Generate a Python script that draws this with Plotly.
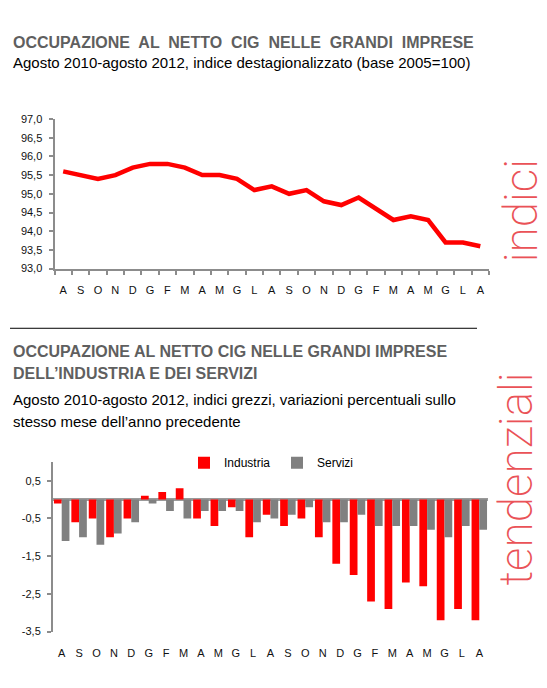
import plotly.graph_objects as go

W, H = 547, 688

# --- data ---
mesi = ["A", "S", "O", "N", "D", "G", "F", "M", "A", "M", "G", "L",
        "A", "S", "O", "N", "D", "G", "F", "M", "A", "M", "G", "L", "A"]

indice = [95.6, 95.5, 95.4, 95.5, 95.7, 95.8, 95.8, 95.7, 95.5, 95.5, 95.4, 95.1,
          95.2, 95.0, 95.1, 94.8, 94.7, 94.9, 94.6, 94.3, 94.4, 94.3, 93.7, 93.7, 93.6]

industria = [-0.1, -0.6, -0.5, -1.0, -0.5, 0.1, 0.2, 0.3, -0.5, -0.7, -0.2, -1.0,
             -0.4, -0.7, -0.5, -1.0, -1.7, -2.0, -2.7, -2.9, -2.2, -2.3, -3.2, -2.9, -3.2]

servizi = [-1.1, -1.0, -1.2, -0.9, -0.6, -0.1, -0.3, -0.5, -0.3, -0.3, -0.3, -0.6,
           -0.5, -0.4, -0.2, -0.6, -0.6, -0.4, -0.7, -0.7, -0.7, -0.8, -1.0, -0.7, -0.8]

ticks_top = [93.0, 93.5, 94.0, 94.5, 95.0, 95.5, 96.0, 96.5, 97.0]
ticks_bottom = [0.5, -0.5, -1.5, -2.5, -3.5]

x = list(range(len(mesi)))
bordi = [i - 0.5 for i in range(len(mesi) + 1)]

FONT = "Liberation Sans"
AXIS_GREY = "#8c8c8c"
RED = "#ff0000"
GREY = "#808080"


def px(v):
    return v / W


def py(v):
    return 1 - v / H


def virgola(vals):
    # etichette con la virgola decimale e il trattino semplice
    return [f"{v:.1f}".replace(".", ",") for v in vals]


fig = go.Figure()

fig.add_trace(go.Scatter(
    x=x, y=indice, mode="lines", line=dict(color=RED, width=4.5),
    showlegend=False, xaxis="x", yaxis="y",
))

fig.add_trace(go.Bar(
    x=x, y=industria, name="Industria", marker=dict(color=RED, line_width=0),
    xaxis="x2", yaxis="y2",
))
fig.add_trace(go.Bar(
    x=x, y=servizi, name="Servizi", marker=dict(color=GREY, line_width=0),
    xaxis="x2", yaxis="y2",
))

tick_font = dict(size=11, family=FONT, color="#111")

fig.update_layout(
    width=W, height=H,
    margin=dict(l=0, r=0, t=0, b=0),
    paper_bgcolor="white", plot_bgcolor="white",
    font=dict(family=FONT, size=12, color="#000"),
    barmode="group", bargap=0.11, bargroupgap=0,
    xaxis=dict(
        domain=[px(54.5), px(489)], anchor="y",
        range=[-0.5, len(mesi) - 0.5],
        tickmode="array", tickvals=x, ticktext=mesi, ticks="",
        ticklabelstandoff=10,
        showline=True, linecolor=AXIS_GREY, linewidth=2,
        showgrid=False, zeroline=False,
        minor=dict(tickmode="array", tickvals=bordi, ticks="outside",
                   ticklen=4, tickcolor=AXIS_GREY, tickwidth=1.5, showgrid=False),
        tickfont=tick_font,
    ),
    yaxis=dict(
        domain=[py(267.3), py(115)], anchor="x",
        range=[93, 97],
        tickmode="array", tickvals=ticks_top, ticktext=virgola(ticks_top),
        ticks="outside", ticklen=4, tickcolor=AXIS_GREY, tickwidth=1.5,
        ticklabelstandoff=4,
        showline=True, linecolor=AXIS_GREY, linewidth=2,
        showgrid=False, zeroline=False,
        tickfont=tick_font,
    ),
    xaxis2=dict(
        domain=[px(53), px(488)], anchor="y2",
        range=[-0.5, len(mesi) - 0.5],
        tickmode="array", tickvals=x, ticktext=mesi, ticks="",
        ticklabelstandoff=13,
        showline=False, showgrid=False, zeroline=False,
        tickfont=tick_font,
    ),
    yaxis2=dict(
        domain=[py(636.7), py(464)], anchor="x2",
        range=[-3.5, 1.0],
        tickmode="array", tickvals=ticks_bottom, ticktext=virgola(ticks_bottom),
        ticks="outside", ticklen=4, tickcolor=AXIS_GREY, tickwidth=1.5,
        ticklabelstandoff=4,
        showline=True, linecolor=AXIS_GREY, linewidth=2,
        showgrid=False,
        zeroline=True, zerolinecolor="#9a9a9a", zerolinewidth=2.5,
        tickfont=tick_font,
    ),
    legend=dict(
        orientation="h", x=px(184), y=py(450), xanchor="left", yanchor="top",
        font=dict(size=12, family=FONT), entrywidth=48,
        itemwidth=30, bgcolor="rgba(0,0,0,0)", traceorder="normal",
    ),
)

titolo = dict(family=FONT, size=16, color="#5f5f5f", weight="bold")
sotto = dict(family=FONT, size=15, color="#000")

annotazioni = [
    ("OCCUPAZIONE  AL  NETTO  CIG  NELLE  GRANDI  IMPRESE", 37, titolo),
    ("Agosto 2010-agosto 2012, indice destagionalizzato (base 2005=100)", 58, sotto),
    ("OCCUPAZIONE AL NETTO CIG NELLE GRANDI IMPRESE", 352, titolo),
    ("DELL\u2019INDUSTRIA E DEI SERVIZI", 374, titolo),
    ("Agosto 2010-agosto 2012, indici grezzi, variazioni percentuali sullo", 400, sotto),
    ("stesso mese dell\u2019anno precedente", 423, sotto),
]
for testo, yy, f in annotazioni:
    fig.add_annotation(text=testo, x=px(11), y=py(yy), xref="paper", yref="paper",
                       xanchor="left", yanchor="middle", showarrow=False, font=f)

verticale = dict(family="Roboto", size=46, color="#ea5257", weight=200)
fig.add_annotation(text="indici", x=px(521), y=py(209), xref="paper", yref="paper",
                   xanchor="center", yanchor="middle",
                   textangle=-90, showarrow=False, font=verticale)
fig.add_annotation(text="tendenziali", x=px(516), y=py(482), xref="paper", yref="paper",
                   xanchor="center", yanchor="middle",
                   textangle=-90, showarrow=False, font=verticale)

fig.add_shape(type="line", xref="paper", yref="paper",
              x0=px(10), x1=px(477), y0=py(328), y1=py(328),
              line=dict(color="#000", width=1))

# la pagina di default ha 8px di margine sul body: lo togliamo
fig.write_html("out.html", config={"displayModeBar": False},
               post_script="document.body.style.margin='0';")
